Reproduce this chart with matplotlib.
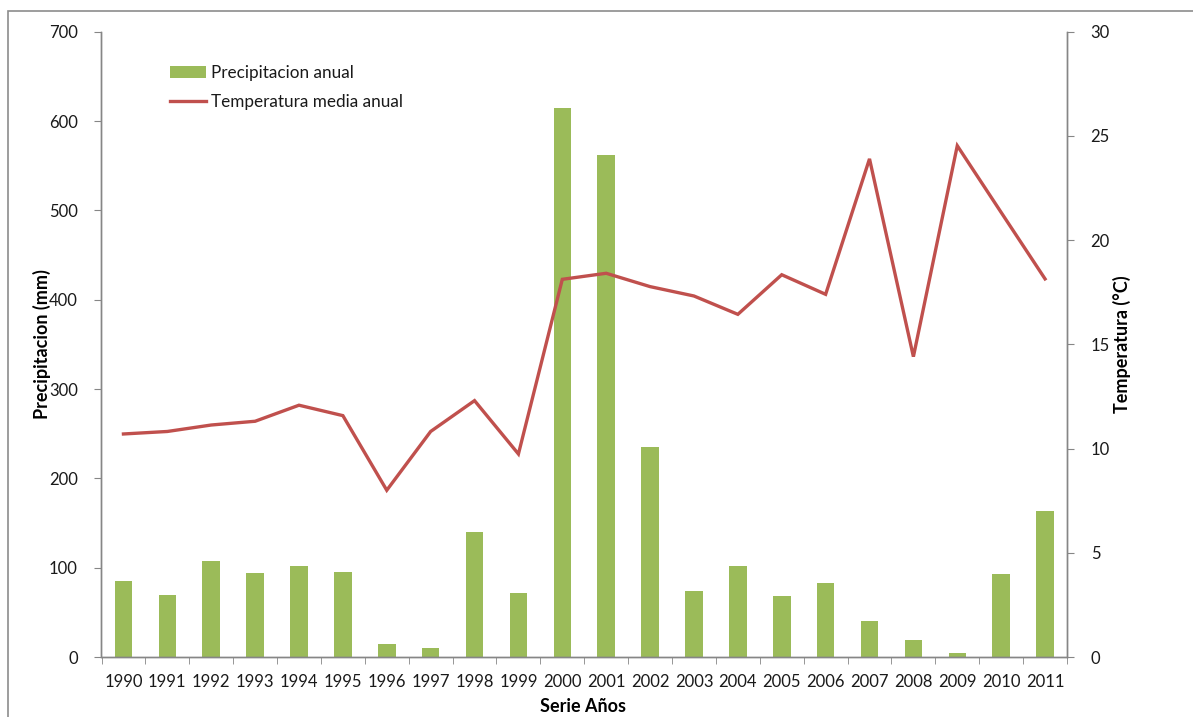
import matplotlib
matplotlib.use("Agg")
import matplotlib.pyplot as plt
from matplotlib.patches import Rectangle
import numpy as np

years = ["1990", "1991", "1992", "1993", "1994", "1995", "1996", "1997", "1998", "1999",
         "2000", "2001", "2002", "2003", "2004", "2005", "2006", "2007", "2008", "2009",
         "2010", "2011"]
precipitacion = [85, 69, 107, 94, 102, 95, 14, 10.5, 140, 72,
                 615, 562, 235, 74, 102, 68, 82.5, 40, 19.5, 4.5,
                 92.5, 163]
temperatura = [10.7, 10.82, 11.13, 11.31, 12.08, 11.58, 8.0, 10.82, 12.3, 9.74,
               18.12, 18.41, 17.77, 17.32, 16.44, 18.34, 17.4, 23.9, 14.41, 24.53,
               21.33, 18.14]

GREEN = "#9BBB59"
RED = "#C0504D"
AXIS = "#868686"
TEXT = "#1a1a1a"

plt.rcParams["font.family"] = ["Lato", "DejaVu Sans"]

W, H = 1193, 717
fig = plt.figure(figsize=(W / 100, H / 100), dpi=100)
left, right, top, bottom = 101.5, 1067, 31.7, 657
ax = fig.add_axes([left / W, 1 - bottom / H, (right - left) / W, (bottom - top) / H])
ax2 = ax.twinx()

# chart area frame
fig.patches.append(Rectangle((8 / W, -0.05), 1.2, 1.05 - 11 / H, transform=fig.transFigure,
                             fill=False, edgecolor="#8c8c8c", linewidth=1.2))

x = np.arange(len(years))
ax.bar(x, precipitacion, width=0.4, color=GREEN, label="Precipitacion anual", zorder=2)
ax2.plot(x, temperatura, color=RED, linewidth=2.4, label="Temperatura media anual",
         solid_joinstyle="miter", zorder=3)

ax.set_xlim(-0.5, len(years) - 0.5)
ax.set_ylim(0, 700)
ax.set_yticks(range(0, 701, 100))
ax2.set_ylim(0, 30)
ax2.set_yticks(range(0, 31, 5))

ax.set_xticks(x)
ax.set_xticklabels(years)
ax.set_xticks(np.arange(-0.5, len(years), 1), minor=True)
ax.tick_params(axis="x", which="major", length=0, pad=12, labelsize=12, labelcolor=TEXT)
ax.tick_params(axis="x", which="minor", length=5, direction="out", color=AXIS)
ax.tick_params(axis="y", length=5, direction="out", color=AXIS, pad=12, labelsize=12,
               labelcolor=TEXT)
ax2.tick_params(axis="y", length=5, direction="out", color=AXIS, pad=12, labelsize=12,
                labelcolor=TEXT)

for a in (ax, ax2):
    a.spines["top"].set_visible(False)
    for s in ("left", "right", "bottom"):
        a.spines[s].set_color(AXIS)
        a.spines[s].set_linewidth(1.0)

ax.set_ylabel("Precipitacion (mm)", fontsize=13, fontweight="bold", color="black")
ax.yaxis.set_label_coords((51 - left) / (right - left), 0.5)
ax2.set_ylabel("Temperatura (°C)", fontsize=13, fontweight="bold", color="black")
ax2.yaxis.set_label_coords((1113 - left) / (right - left), 0.5)
fig.text(583 / W, 1 - 706 / H, "Serie Años", fontsize=13, fontweight="bold",
         color="black", ha="center", va="center")

h1, l1 = ax.get_legend_handles_labels()
h2, l2 = ax2.get_legend_handles_labels()
leg = fig.legend(h1 + h2, l1 + l2, loc="upper left",
                 bbox_to_anchor=(155 / W, 1 - 50 / H), frameon=False, fontsize=12.3,
                 handlelength=2.1, handletextpad=0.25, labelspacing=0.75,
                 labelcolor=TEXT)

fig.savefig("out.png", dpi=100, facecolor="white")
